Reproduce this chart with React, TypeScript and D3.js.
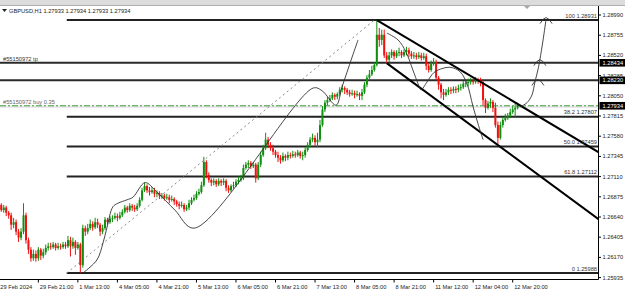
import React from "react";
import * as d3 from "d3";

// ---------- DATA ----------
const firstOpen = 1.2676;
const closes = [
  1.2678,1.2672,1.2675,1.2669,1.2666,1.2655,1.2658,1.2647,1.2640,1.2647,
  1.2666,1.2637,1.2626,1.2616,1.2621,1.2616,1.2626,1.2619,1.2623,1.2628,
  1.2630,1.2629,1.2632,1.2628,1.2630,1.2629,1.2632,1.2630,1.2637,1.2630,
  1.2635,1.2628,1.2632,1.2608,1.2651,1.2647,1.2651,1.2656,1.2652,1.2658,
  1.2655,1.2647,1.2651,1.2661,1.2658,1.2662,1.2663,1.2665,1.2663,1.2666,
  1.2670,1.2675,1.2672,1.2677,1.2675,1.2673,1.2677,1.2684,1.2695,1.2700,
  1.2695,1.2693,1.2695,1.2691,1.2692,1.2689,1.2689,1.2686,1.2687,1.2684,
  1.2685,1.2682,1.2679,1.2677,1.2678,1.2673,1.2675,1.2680,1.2684,1.2686,
  1.2691,1.2693,1.2701,1.2728,1.2713,1.2707,1.2704,1.2706,1.2702,1.2706,
  1.2704,1.2706,1.2698,1.2695,1.2700,1.2701,1.2705,1.2707,1.2709,1.2721,
  1.2725,1.2727,1.2723,1.2725,1.2709,1.2725,1.2736,1.2744,1.2754,1.2748,
  1.2744,1.2740,1.2736,1.2733,1.2730,1.2735,1.2733,1.2736,1.2735,1.2737,
  1.2736,1.2739,1.2735,1.2736,1.2742,1.2748,1.2754,1.2756,1.2751,1.2754,
  1.2771,1.2789,1.2797,1.2800,1.2802,1.2806,1.2804,1.2807,1.2812,1.2814,
  1.2812,1.2809,1.2807,1.2808,1.2806,1.2807,1.2805,1.2809,1.2818,1.2826,
  1.2830,1.2835,1.2841,1.2876,1.2870,1.2876,1.2852,1.2847,1.2852,1.2856,
  1.2851,1.2855,1.2856,1.2852,1.2856,1.2858,1.2854,1.2851,1.2852,1.2850,
  1.2852,1.2849,1.2851,1.2840,1.2835,1.2842,1.2844,1.2826,1.2818,1.2809,
  1.2806,1.2809,1.2812,1.2811,1.2813,1.2812,1.2814,1.2815,1.2819,1.2820,
  1.2821,1.2822,1.2821,1.2823,1.2822,1.2821,1.2800,1.2791,1.2796,1.2798,
  1.2791,1.2771,1.2756,1.2771,1.2777,1.2779,1.2782,1.2786,1.2789,1.2791,
  1.27934,
];
const highs = [
  1.2684,1.2680,1.2678,1.2677,1.2671,1.2669,1.2663,1.2661,1.2650,1.2651,
  1.2680,1.2669,1.2640,1.2629,1.2626,1.2625,1.2629,1.2628,1.2627,1.2632,
  1.2634,1.2634,1.2635,1.2634,1.2634,1.2633,1.2635,1.2635,1.2642,1.2641,
  1.2640,1.2637,1.2635,1.2634,1.2655,1.2654,1.2656,1.2661,1.2659,1.2663,
  1.2662,1.2657,1.2655,1.2664,1.2663,1.2665,1.2666,1.2669,1.2668,1.2670,
  1.2673,1.2678,1.2677,1.2680,1.2679,1.2678,1.2680,1.2687,1.2698,1.2704,
  1.2702,1.2699,1.2699,1.2698,1.2695,1.2694,1.2692,1.2691,1.2691,1.2690,
  1.2689,1.2687,1.2684,1.2682,1.2682,1.2680,1.2678,1.2684,1.2687,1.2690,
  1.2694,1.2697,1.2705,1.2734,1.2730,1.2716,1.2709,1.2709,1.2708,1.2709,
  1.2708,1.2709,1.2708,1.2701,1.2702,1.2705,1.2708,1.2711,1.2713,1.2725,
  1.2728,1.2730,1.2729,1.2728,1.2727,1.2728,1.2740,1.2748,1.2762,1.2757,
  1.2751,1.2748,1.2742,1.2740,1.2736,1.2739,1.2737,1.2740,1.2739,1.2741,
  1.2740,1.2742,1.2741,1.2740,1.2745,1.2751,1.2757,1.2761,1.2759,1.2762,
  1.2777,1.2793,1.2800,1.2804,1.2806,1.2809,1.2808,1.2809,1.2815,1.2818,
  1.2816,1.2814,1.2812,1.2812,1.2811,1.2811,1.2809,1.2813,1.2821,1.2829,
  1.2835,1.2840,1.2844,1.2893,1.2884,1.2882,1.2882,1.2856,1.2856,1.2859,
  1.2858,1.2858,1.2861,1.2858,1.2859,1.2862,1.2861,1.2857,1.2856,1.2855,
  1.2856,1.2855,1.2855,1.2854,1.2843,1.2846,1.2849,1.2847,1.2828,1.2820,
  1.2813,1.2813,1.2815,1.2815,1.2816,1.2816,1.2818,1.2819,1.2822,1.2823,
  1.2825,1.2826,1.2825,1.2827,1.2826,1.2826,1.2823,1.2802,1.2799,1.2802,
  1.2800,1.2797,1.2775,1.2775,1.2780,1.2784,1.2785,1.2790,1.2793,1.2796,
  1.2797,
];
const lows = [
  1.2672,1.2670,1.2669,1.2665,1.2662,1.2649,1.2651,1.2643,1.2635,1.2637,
  1.2644,1.2633,1.2621,1.2612,1.2613,1.2612,1.2613,1.2614,1.2616,1.2620,
  1.2625,1.2626,1.2627,1.2625,1.2626,1.2626,1.2627,1.2627,1.2628,1.2618,
  1.2627,1.2620,1.2626,1.2599,1.2605,1.2642,1.2644,1.2649,1.2648,1.2650,
  1.2651,1.2642,1.2644,1.2649,1.2655,1.2656,1.2658,1.2661,1.2659,1.2661,
  1.2664,1.2668,1.2669,1.2670,1.2671,1.2670,1.2671,1.2675,1.2682,1.2693,
  1.2692,1.2689,1.2691,1.2687,1.2687,1.2685,1.2685,1.2683,1.2684,1.2680,
  1.2682,1.2678,1.2676,1.2673,1.2675,1.2670,1.2671,1.2672,1.2678,1.2682,
  1.2684,1.2689,1.2691,1.2699,1.2709,1.2704,1.2700,1.2701,1.2699,1.2700,
  1.2700,1.2701,1.2694,1.2692,1.2693,1.2697,1.2699,1.2702,1.2705,1.2707,
  1.2719,1.2721,1.2720,1.2721,1.2704,1.2707,1.2722,1.2734,1.2742,1.2744,
  1.2741,1.2736,1.2733,1.2728,1.2726,1.2728,1.2729,1.2730,1.2732,1.2733,
  1.2733,1.2734,1.2732,1.2730,1.2733,1.2740,1.2745,1.2751,1.2747,1.2745,
  1.2751,1.2769,1.2786,1.2794,1.2798,1.2800,1.2800,1.2801,1.2805,1.2809,
  1.2807,1.2806,1.2804,1.2805,1.2802,1.2804,1.2800,1.2800,1.2807,1.2815,
  1.2823,1.2828,1.2833,1.2839,1.2862,1.2864,1.2849,1.2843,1.2844,1.2849,
  1.2847,1.2849,1.2851,1.2849,1.2850,1.2852,1.2850,1.2848,1.2848,1.2847,
  1.2848,1.2846,1.2847,1.2835,1.2832,1.2833,1.2840,1.2823,1.2812,1.2802,
  1.2800,1.2804,1.2806,1.2807,1.2808,1.2808,1.2809,1.2811,1.2813,1.2815,
  1.2816,1.2818,1.2818,1.2819,1.2819,1.2816,1.2794,1.2785,1.2789,1.2791,
  1.2786,1.2768,1.2748,1.2754,1.2768,1.2775,1.2777,1.2779,1.2784,1.2780,
  1.2789,
];

const timeLabels = ["29 Feb 2024","29 Feb 21:00","1 Mar 13:00","4 Mar 05:00","4 Mar 21:00","5 Mar 13:00","6 Mar 05:00","6 Mar 21:00","7 Mar 13:00","8 Mar 05:00","8 Mar 21:00","11 Mar 12:00","12 Mar 04:00","12 Mar 20:00"];
const timeLabelBars = [0,16,32,48,64,80,96,112,128,144,160,176,192,208];

const priceTicks = [1.28990,1.28755,1.28520,1.28285,1.28050,1.27815,1.27580,1.27345,1.27110,1.26875,1.26640,1.26405,1.26170,1.25935];

const fibNames = ["100","61.8","50.0","38.2","0"];
const fibPrices = [1.28931,1.27112,1.27459,1.27807,1.25988];
const fibAnchorBars = [27.5, 152];
const fibAnchorPrices = [1.25988, 1.28931];

const hLinePrices = [1.28434, 1.28230];
const hLineLabels = ["#55150972 tp", ""];
const buyPrice = 1.27934;
const buyLabel = "#55150972 buy 0.35";
const boxPrices = [1.28434, 1.28230, 1.27934];

const upperChannelBars = [153, 243];
const upperChannelPrices = [1.28931, 1.2739];
const lowerChannelBars = [157, 243];
const lowerChannelPrices = [1.2843, 1.2661];

const sketch1Bars = [34.1,39.7,42.2,43.8,46.2,48.2,51.9,54.3,59.2,64.0,71.3,79.0,127.2,130.8,136.5,138.9,143.0,145.4];
const sketch1Prices = [1.2599,1.2614,1.2634,1.2652,1.2676,1.2680,1.2684,1.2687,1.2704,1.2693,1.2672,1.2651,1.2814,1.2811,1.2794,1.2815,1.2850,1.2870];
const sketch2Bars = [157.1,161.6,164.8,167.6,169.7,170.9,173.3,176.1,179.8,183.0,186.7,189.5,191.9,193.9,196.0];
const sketch2Prices = [1.2878,1.2870,1.2856,1.2835,1.2819,1.2812,1.2821,1.2832,1.2837,1.2838,1.2833,1.2819,1.2793,1.2773,1.2754];
const arrowBars = [210.9,213.8,215.8,217.0,218.2,219.0,220.3,221.5];
const arrowPrices = [1.2792,1.2797,1.2806,1.2821,1.2835,1.2847,1.2870,1.2894];
const arrowTipBars = [218.2, 219.0, 221.5];
const arrowTipPrices = [1.2824, 1.2847, 1.2896];

const titleText = "GBPUSD,H1  1.27933 1.27934 1.27933 1.27934";

// ---------- COMPONENT ----------
export default function App() {
  const W = 625, H = 292;
  const plotR = 598.5, plotT = 6, plotB = 279.5;
  const x = d3.scaleLinear().domain([0, 208]).range([-1.2, 512.7]);
  const y = d3.scaleLinear().domain([1.25935, 1.2899]).range([277.6, 15]);
  const font = "'Liberation Sans', Arial, sans-serif";
  const fs = 5.7;
  const txt = "#222";

  const opens = closes.map((c, i) => (i === 0 ? firstOpen : closes[i - 1]));
  const bull = "#0f8f0f";
  const bear = "#f01010";

  const curve = d3
    .line<[number, number]>()
    .x((d) => x(d[0]))
    .y((d) => y(d[1]))
    .curve(d3.curveCatmullRom.alpha(0.5));
  const zip = (a: number[], b: number[]) => a.map((v, i) => [v, b[i]] as [number, number]);

  const fibX0 = x(fibAnchorBars[0]);
  const lineEnd = (bars: number[], prices: number[]) => ({
    x1: x(bars[0]), y1: y(prices[0]), x2: x(bars[1]), y2: y(prices[1]),
  });
  const up = lineEnd(upperChannelBars, upperChannelPrices);
  const lo = lineEnd(lowerChannelBars, lowerChannelPrices);

  return (
    <svg
      width={W}
      height={H}
      style={{ position: "absolute", left: 0, top: 0, background: "#fff" }}
      fontFamily={font}
    >
      <defs>
        <clipPath id="plot">
          <rect x={0} y={plotT} width={plotR} height={plotB - plotT} />
        </clipPath>
      </defs>
      <rect x={0} y={0} width={W} height={H} fill="#fff" />
      {/* toolbar strip */}
      <rect x={0} y={0} width={W} height={5} fill="#dcdcdc" />
      <line x1={0} x2={W} y1={5.5} y2={5.5} stroke="#b0b0b0" strokeWidth={1} />
      <path d="M524,6 L530,6 L527,9 Z" fill="#a8a8a8" />

      <g clipPath="url(#plot)">
        {/* horizontal order lines */}
        {hLinePrices.map((p, i) => (
          <line key={"h" + i} x1={0} x2={plotR} y1={y(p)} y2={y(p)} stroke="#2a2a2a" strokeWidth={2} />
        ))}
        {/* bid line + buy line */}
        <line x1={0} x2={plotR} y1={y(buyPrice) + 1.2} y2={y(buyPrice) + 1.2} stroke="#d0d0d0" strokeWidth={1} />
        <line x1={0} x2={plotR} y1={y(buyPrice)} y2={y(buyPrice)} stroke="#3a9a3a" strokeWidth={1} strokeDasharray="6,2,2,2" />
        {/* fib levels */}
        {fibPrices.map((p, i) => (
          <line key={"f" + i} x1={fibX0} x2={plotR} y1={y(p)} y2={y(p)} stroke="#222" strokeWidth={2} />
        ))}
        {/* fib trend (dotted) */}
        <line
          x1={x(fibAnchorBars[0])} y1={y(fibAnchorPrices[0])}
          x2={x(fibAnchorBars[1])} y2={y(fibAnchorPrices[1])}
          stroke="#888" strokeWidth={1} strokeDasharray="2,3"
        />
        {/* candles */}
        {closes.map((c, i) => {
          const o = opens[i];
          const h = Math.max(highs[i], o, c);
          const l = Math.min(lows[i], o, c);
          const cx = x(i);
          const col = c >= o ? bull : bear;
          const top = y(Math.max(o, c));
          const bh = Math.max(1, y(Math.min(o, c)) - top);
          return (
            <g key={"c" + i}>
              <line x1={cx} x2={cx} y1={y(h)} y2={y(l)} stroke={col} strokeWidth={1} />
              <rect x={cx - 1} y={top} width={2} height={bh} fill={col} />
            </g>
          );
        })}
        {/* channel lines */}
        <line {...up} stroke="#000" strokeWidth={2} />
        <line {...lo} stroke="#000" strokeWidth={2} />
        {/* hand-drawn sketches */}
        <path d={curve(zip(sketch1Bars, sketch1Prices)) || ""} fill="none" stroke="#333" strokeWidth={0.9} />
        <path d={curve(zip(sketch2Bars, sketch2Prices)) || ""} fill="none" stroke="#333" strokeWidth={0.9} />
        <path d={curve(zip(arrowBars, arrowPrices)) || ""} fill="none" stroke="#333" strokeWidth={0.9} />
        {arrowTipBars.map((b, i) => {
          const tx = x(b), ty = y(arrowTipPrices[i]);
          return (
            <path
              key={"a" + i}
              d={`M${tx - 6},${ty + 6} Q${tx - 3},${ty + 0.5} ${tx},${ty} Q${tx + 3},${ty + 0.5} ${tx + 6},${ty + 6}`}
              fill="none" stroke="#333" strokeWidth={0.9}
            />
          );
        })}
      </g>

      {/* fib labels */}
      {fibPrices.map((p, i) => (
        <text key={"fl" + i} x={597} y={y(p) - 2.5} fontSize={fs} fill="#333" textAnchor="end">
          {fibNames[i] + " " + p.toFixed(5)}
        </text>
      ))}
      {/* order labels */}
      {hLinePrices.map((p, i) =>
        hLineLabels[i] ? (
          <text key={"hl" + i} x={3} y={y(p) - 2} fontSize={fs} fill="#333">{hLineLabels[i]}</text>
        ) : null
      )}
      <text x={3} y={y(buyPrice) - 2} fontSize={fs} fill="#666">{buyLabel}</text>

      {/* title */}
      <path d="M2,9 L7,9 L4.5,12 Z" fill="#222" />
      <text x={9} y={12.5} fontSize={fs} fill={txt}>{titleText}</text>

      {/* axes frame */}
      <line x1={plotR} x2={plotR} y1={plotT} y2={plotB} stroke="#000" strokeWidth={1} />
      <line x1={0} x2={plotR} y1={plotB} y2={plotB} stroke="#000" strokeWidth={1} />

      {/* price axis */}
      {priceTicks.map((p, i) => (
        <g key={"pt" + i}>
          <line x1={plotR} x2={plotR + 2.5} y1={y(p)} y2={y(p)} stroke="#000" strokeWidth={1} />
          <text x={602.5} y={y(p) + 2} fontSize={fs} fill={txt}>{p.toFixed(5)}</text>
        </g>
      ))}
      {boxPrices.map((p, i) => (
        <g key={"bx" + i}>
          <rect x={599.5} y={y(p) - 3.8} width={26} height={7.6} fill="#000" />
          <text x={602.5} y={y(p) + 2} fontSize={fs} fill="#fff">{p.toFixed(5)}</text>
        </g>
      ))}

      {/* time axis */}
      {timeLabelBars.map((b, i) => {
        const tx = x(b);
        return (
          <g key={"tl" + i}>
            {i > 0 && <line x1={tx} x2={tx} y1={plotB} y2={plotB + 3} stroke="#000" strokeWidth={1} />}
            <text x={Math.max(0, tx + 1.5)} y={288.5} fontSize={fs} fill={txt}>{timeLabels[i]}</text>
          </g>
        );
      })}
    </svg>
  );
}
